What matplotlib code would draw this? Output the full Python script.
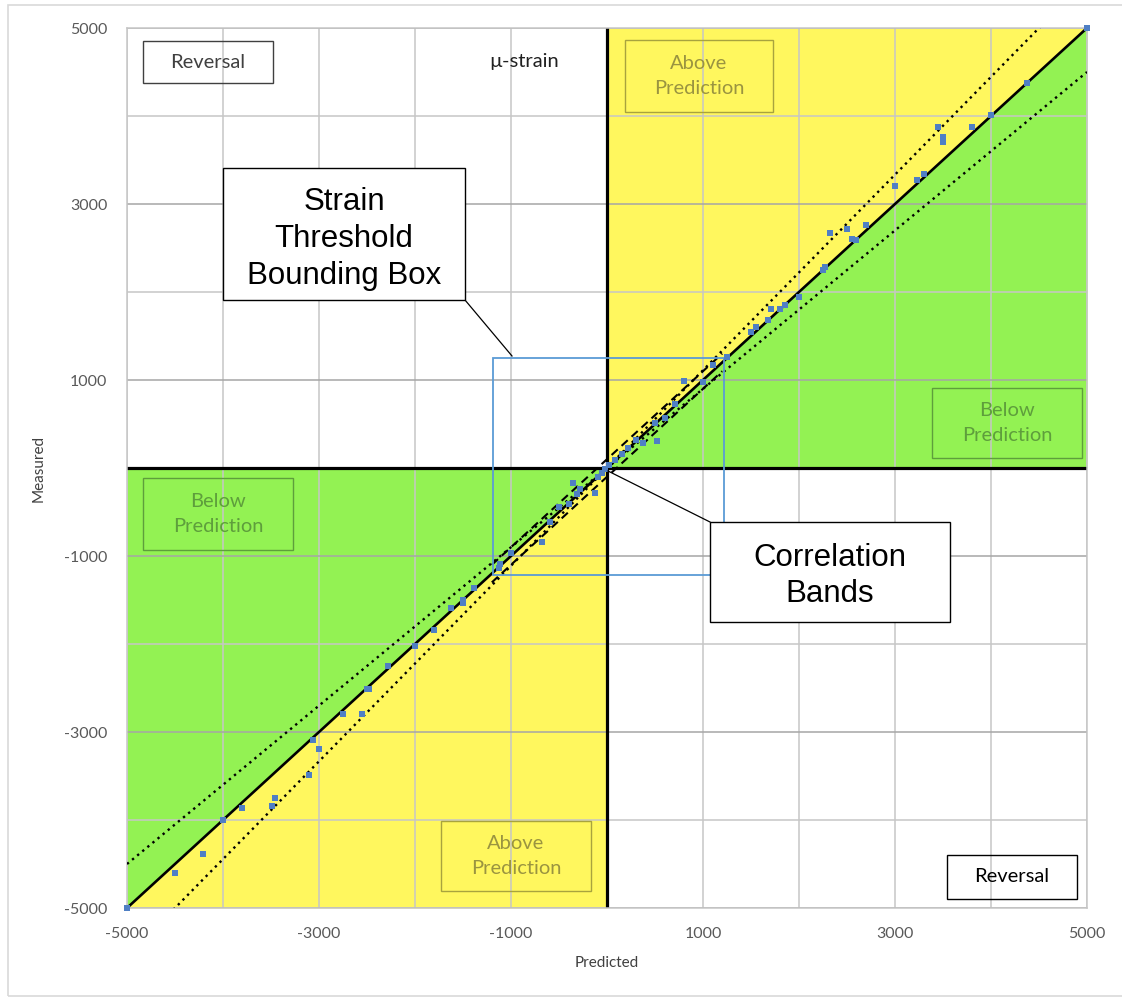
import matplotlib.pyplot as plt
from matplotlib.patches import Rectangle
from matplotlib.lines import Line2D
import numpy as np

plt.rcParams['axes.unicode_minus'] = False

W, H = 1122, 998

# measured vs predicted strain (micro-strain)
predicted = [5000, 4380, 4000, 3800, 3450, 3500, 3500, 3300, 3230, 3000,
             2700, 2500, 2325, 2550, 2590, 2270, 2250, 2000, 1855, 1800,
             1705, 1675, 1550, 1500, 1250, 1105, 1000, 800, 710, 605,
             500, 517, 375, 300, 222, 153, 83, 25,
             -20, -55, -90, -125, -280, -350, -315, -400, -500, -595,
             -680, -1000, -1110, -1130, -1385, -1500, -1500, -1630, -1800, -2000,
             -2280, -2500, -2475, -2750, -2550, -3060, -3000, -3100, -3460, -3490,
             -3800, -4000, -4205, -4500, -5000]
measured = [5000, 4370, 4015, 3870, 3870, 3700, 3760, 3340, 3270, 3200,
            2765, 2715, 2670, 2600, 2595, 2285, 2245, 1940, 1850, 1805,
            1805, 1680, 1605, 1545, 1265, 1165, 975, 985, 730, 570,
            515, 310, 283, 315, 230, 163, 95, 34,
            -15, -60, -99, -288, -242, -167, -295, -411, -445, -612,
            -837, -970, -1090, -1140, -1367, -1500, -1538, -1588, -1841, -2021,
            -2248, -2515, -2515, -2795, -2795, -3091, -3189, -3492, -3746, -3841,
            -3867, -4000, -4390, -4600, -5000]

lim = [-5000, 5000]
ticks = [-5000, -3000, -1000, 1000, 3000, 5000]
minor_ticks = [-4000, -2000, 0, 2000, 4000]
band_slopes = [0.9, 1 / 0.9]      # dotted +/-10 % bands
band_offset = 100                 # dashed bands near zero
band_span = [-1200, 1200]
bbox_x = [-1190, 1220]            # strain threshold bounding box
bbox_y = [-1220, 1250]

yellow = '#FFF75E'
green = '#93F253'
grid_light = '#C6C6C6'
grid_dark = '#A6A6A6'
pt_color = '#4F7FC4'
label_font = ['Lato', 'DejaVu Sans']
call_font = ['Liberation Sans', 'DejaVu Sans']

fig = plt.figure(figsize=(W / 100, H / 100), dpi=100)
ax = fig.add_axes([127 / W, 1 - 908 / H, 960 / W, 880 / H])
ax.set_xlim(lim)
ax.set_ylim(lim)

# quadrant fills
q = np.array([0, lim[1]])
ax.fill_between(q, q, lim[1], color=yellow, lw=0, zorder=0)
ax.fill_between(q, 0, q, color=green, lw=0, zorder=0)
q = np.array([lim[0], 0])
ax.fill_between(q, q, 0, color=green, lw=0, zorder=0)
ax.fill_between(q, lim[0], q, color=yellow, lw=0, zorder=0)

# grid
for v in ticks + minor_ticks:
    ax.axvline(v, color=grid_light, lw=1.1, zorder=1)
for v in ticks:
    ax.axhline(v, color=grid_dark, lw=1.1, zorder=1)
for v in minor_ticks:
    ax.axhline(v, color=grid_light, lw=1.1, zorder=1)
ax.axhline(0, color='black', lw=2.3, zorder=2)
ax.axvline(0, color='black', lw=2.3, zorder=2)

# 1:1 line and bands
xs = np.array(lim)
ax.plot(xs, xs, color='black', lw=1.9, zorder=3)
for s in band_slopes:
    ax.plot(xs, s * xs, color='black', lw=1.7, ls=(0, (1, 1.8)), zorder=3)
bs = np.array(band_span)
ax.plot(bs, bs + band_offset, color='black', lw=1.5, ls=(0, (4, 2.5)), zorder=3)
ax.plot(bs, bs - band_offset, color='black', lw=1.5, ls=(0, (4, 2.5)), zorder=3)

ax.add_patch(Rectangle((bbox_x[0], bbox_y[0]), bbox_x[1] - bbox_x[0],
                       bbox_y[1] - bbox_y[0], fill=False,
                       edgecolor='#5B9BD5', lw=1.3, zorder=4))

ax.scatter(predicted, measured, marker='s', s=25, color=pt_color,
           lw=0, zorder=5, clip_on=False)

ax.set_xticks(ticks)
ax.set_yticks(ticks)
ax.tick_params(length=0, labelsize=11.5, labelcolor='#595959')
ax.tick_params(axis='y', pad=14)
ax.tick_params(axis='x', pad=14)
for lab in ax.get_xticklabels() + ax.get_yticklabels():
    lab.set_family(label_font)
for sp in ax.spines.values():
    sp.set_color(grid_light)
    sp.set_linewidth(1.1)

ax.set_xlabel('Predicted', family=label_font, fontsize=11, color='#404040')
ax.set_ylabel('Measured', family=label_font, fontsize=11, color='#404040')
ax.xaxis.set_label_coords(0.5, -0.055)
ax.yaxis.set_label_coords(-0.085, 0.5)


def fbox(x0, y0, x1, y1, text, ec, tc, fc='none', lw=1.0, font=label_font,
         size=14.5, ls=1.55, dy=0):
    r = Rectangle((x0 / W, 1 - y1 / H), (x1 - x0) / W, (y1 - y0) / H,
                  transform=fig.transFigure, facecolor=fc, edgecolor=ec,
                  lw=lw, zorder=10)
    fig.patches.append(r)
    fig.text((x0 + x1) / 2 / W, 1 - ((y0 + y1) / 2 + dy) / H, text,
             ha='center', va='center', color=tc, family=font, fontsize=size,
             linespacing=ls, zorder=11)


def fline(x0, y0, x1, y1):
    fig.lines.append(Line2D([x0 / W, x1 / W], [1 - y0 / H, 1 - y1 / H],
                            transform=fig.transFigure, color='black',
                            lw=0.9, zorder=9))


# outer chart border
fig.patches.append(Rectangle((8 / W, 1 - 996 / H), 1130 / W, 991 / H,
                             transform=fig.transFigure, fill=False,
                             edgecolor='#D9D9D9', lw=1.2))

fbox(143, 41, 273, 83, 'Reversal', '#404040', '#404040')
fbox(947, 855, 1077, 899, 'Reversal', '#000000', '#000000')
fig.text(524 / W, 1 - 62 / H, 'µ-strain', ha='center', va='center',
         family=label_font, fontsize=14.5, color='#202020')
fbox(625, 40, 773, 112, 'Above\nPrediction', '#A8A33E', '#9A9440')
fbox(441, 821, 591, 891, 'Above\nPrediction', '#A8A33E', '#9A9440')
fbox(932, 388, 1082, 458, 'Below\nPrediction', '#5E9E3C', '#5E9E3C')
fbox(143, 478, 293, 550, 'Below\nPrediction', '#5E9E3C', '#5E9E3C')

fline(465, 300, 512, 356)
fbox(223, 168, 465, 300, 'Strain\nThreshold\nBounding Box', '#000000',
     '#000000', fc='white', font=call_font, size=22.5, ls=1.3, dy=5)
fline(608, 471, 710, 522)
fbox(710, 522, 950, 622, 'Correlation\nBands', '#000000', '#000000',
     fc='white', font=call_font, size=22.5, ls=1.3, dy=4)

fig.savefig('out.png', dpi=100)
